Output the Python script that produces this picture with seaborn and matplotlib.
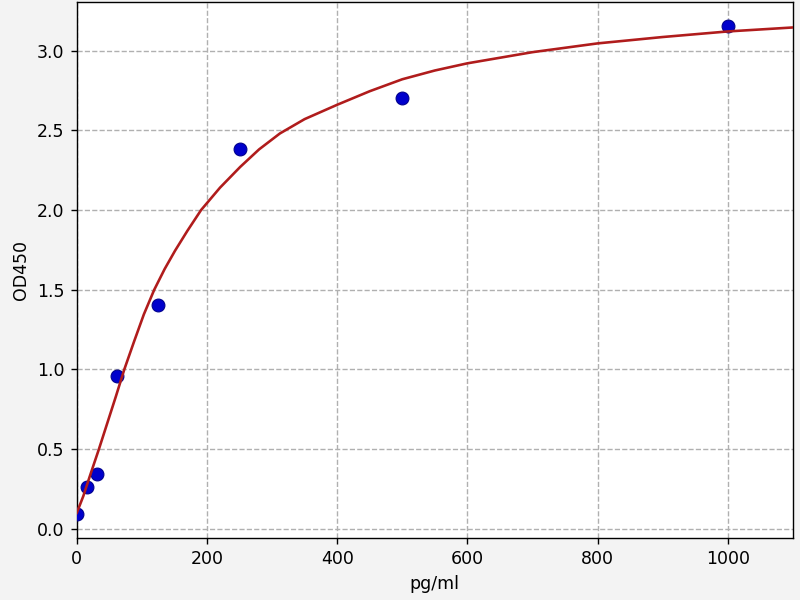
import seaborn as sns
import pandas as pd
import matplotlib
matplotlib.use("Agg")
import matplotlib.pyplot as plt

# standard points
conc = [0, 15.6, 31.25, 62.5, 125, 250, 500, 1000]
od450 = [0.094, 0.26, 0.345, 0.956, 1.404, 2.38, 2.703, 3.153]

# fitted curve at these concentrations
curve_x = [0, 10, 20, 34, 47, 60, 73, 88, 103, 119, 135, 151, 170, 191, 220,
           251, 280, 312, 350, 400, 450, 500, 550, 600, 700, 800, 900, 1000, 1100]
curve_y = [0.10, 0.205, 0.33, 0.50, 0.665, 0.83, 1.00, 1.175, 1.345, 1.50, 1.63,
           1.745, 1.87, 2.00, 2.14, 2.27, 2.38, 2.48, 2.57, 2.66, 2.745, 2.82,
           2.875, 2.92, 2.99, 3.045, 3.085, 3.12, 3.145]

pts = pd.DataFrame({"pg/ml": conc, "OD450": od450})
fit = pd.DataFrame({"pg/ml": curve_x, "OD450": curve_y})

fig, ax = plt.subplots(figsize=(6.4, 4.8), dpi=125)
fig.patch.set_facecolor("#f3f3f3")
fig.subplots_adjust(left=0.096, right=0.991, bottom=0.103, top=0.997)

sns.scatterplot(data=pts, x="pg/ml", y="OD450", s=55, color="#0000cc",
                edgecolor="#00008b", linewidth=0.6, zorder=3, ax=ax)
sns.lineplot(data=fit, x="pg/ml", y="OD450", color="#b01c1c", lw=1.5,
             zorder=4, ax=ax)

ax.grid(True, linestyle="--", color="#b0b0b0", lw=0.8)
ax.set_axisbelow(True)
ax.set_xlim(0, 1100)
ax.set_ylim(-0.059, 3.306)
ax.set_xticks([0, 200, 400, 600, 800, 1000])
ax.set_yticks([0.0, 0.5, 1.0, 1.5, 2.0, 2.5, 3.0])
ax.set_xlabel("pg/ml")
ax.set_ylabel("OD450")

plt.savefig("out.png", dpi=125, facecolor=fig.get_facecolor())
